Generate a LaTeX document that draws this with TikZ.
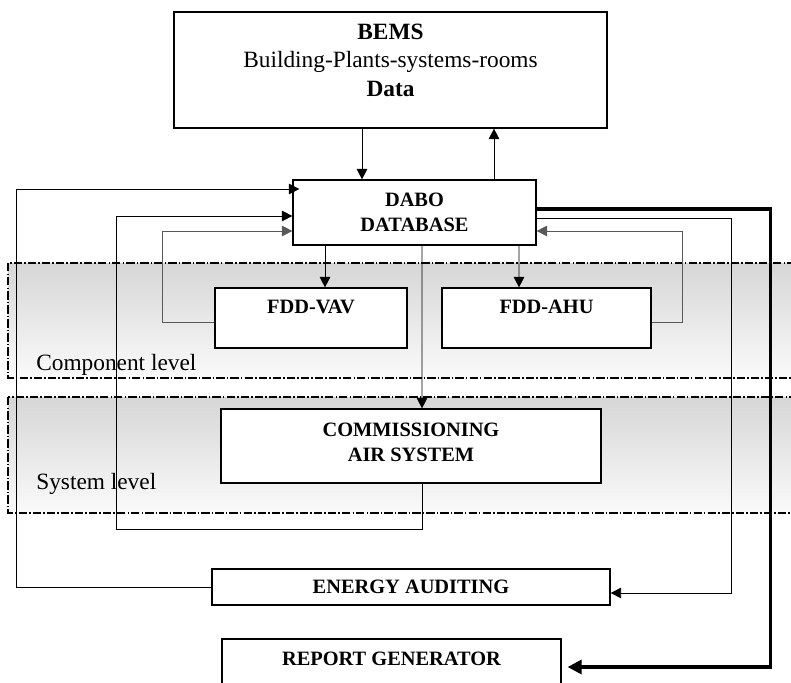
\documentclass[tikz,border=0pt]{standalone}
\usepackage{fontspec}
\setmainfont{Liberation Serif}
\usetikzlibrary{arrows.meta,positioning,calc}

\tikzset{
  blk/.style={draw,fill=white,line width=0.8pt,inner sep=0pt,align=center,
    font=\fontsize{14.5}{17.7}\selectfont\bfseries},
  band/.style={draw,line width=0.8pt,dash pattern=on 6pt off 1.5pt on 1pt off 1.5pt,
    top color=black!16,bottom color=black!2},
  lvl/.style={anchor=base west,inner sep=0pt,font=\fontsize{16.6}{20}\selectfont},
  link/.style={line width=0.65pt,->},
  fbk/.style={link,draw=black!65},
  mainlink/.style={line width=2.2pt,-{Triangle[length=10pt,width=10pt]}},
}

\begin{document}
\begin{tikzpicture}[x=0.025cm,y=-0.025cm,>={Triangle[length=7.5pt,width=7.5pt]}]
  \useasboundingbox (0,0) rectangle (791,683);
  % levels
  \draw[band] (8,263) rectangle (800,378);
  \draw[band] (8,397) rectangle (800,513);
  \node[lvl] (complvl) at (36,370) {Component level};
  \node[lvl] (syslvl) at (36,489) {System level};

  % blocks
  \node[blk,minimum width=10.825cm,minimum height=2.9cm] (bems) at (390.5,70) {};
  \node[anchor=north,inner sep=0pt,align=center,font=\fontsize{16.6}{20.3}\selectfont]
    (bemstxt) at ($(bems.north)+(0,12.2)$) {\textbf{BEMS}\\Building-Plants-systems-rooms\\\textbf{Data}};
  \node[blk,minimum width=6.075cm,minimum height=1.625cm] (dabo) at (414.5,212.5) {DABO\\DATABASE};
  \node[blk,minimum width=4.8cm,minimum height=1.5cm,text depth=15.5pt] (vav) at (311,318) {FDD-VAV};
  \node[blk,minimum width=5.225cm,minimum height=1.5cm,text depth=15.5pt] (ahu) at (546.5,318) {FDD-AHU};
  \node[blk,minimum width=9.5cm,minimum height=1.85cm,text depth=5.5pt] (comm) at (411,446) {COMMISSIONING\\AIR SYSTEM};
  \node[blk,minimum width=9.95cm,minimum height=0.9cm] (audit) at (411,587) {ENERGY AUDITING};
  \node[blk,minimum width=8.475cm,minimum height=1.55cm,text depth=15.5pt] (report) at (391.5,670) {REPORT GENERATOR};

  % links
  \draw[link] ($(bems.south)+(-28.5,0)$) -- ($(dabo.north)+(-52.5,0)$);
  \draw[link] ($(dabo.north)+(79.5,0)$) -- ($(bems.south)+(103.5,0)$);
  \draw[link] ($(dabo.south)+(-89.5,0)$) -- ($(vav.north)+(14,0)$);
  \draw[link] ($(dabo.south)+(104.5,0)$) -- ($(ahu.north)+(-27.5,0)$);
  \draw[link] ($(dabo.south)+(7.5,0)$) -- ($(comm.north)+(11,0)$);
  \draw[fbk] ($(vav.west)+(0,4)$) -- ++(-52,0) |- ($(dabo.west)+(0,18.5)$);
  \draw[fbk] ($(ahu.east)+(0,4)$) -- ++(31,0) |- ($(dabo.east)+(0,18.5)$);
  \draw[link] ($(comm.south)+(11,0)$) -- ++(0,46) -- ++(-306,0) |- ($(dabo.west)+(0,3.5)$);
  \draw[link] (audit.west) -- ++(-195,0) |- ($(dabo.west)+(7,-23.5)$);
  \draw[link] ($(dabo.east)+(0,5.5)$) -- ++(195,0) |- ($(audit.east)+(0,6)$);
  \draw[mainlink] ($(dabo.east)+(0,-3.5)$) -- ++(234,0) |- ($(report.east)+(6,-3)$);
\end{tikzpicture}
\end{document}
